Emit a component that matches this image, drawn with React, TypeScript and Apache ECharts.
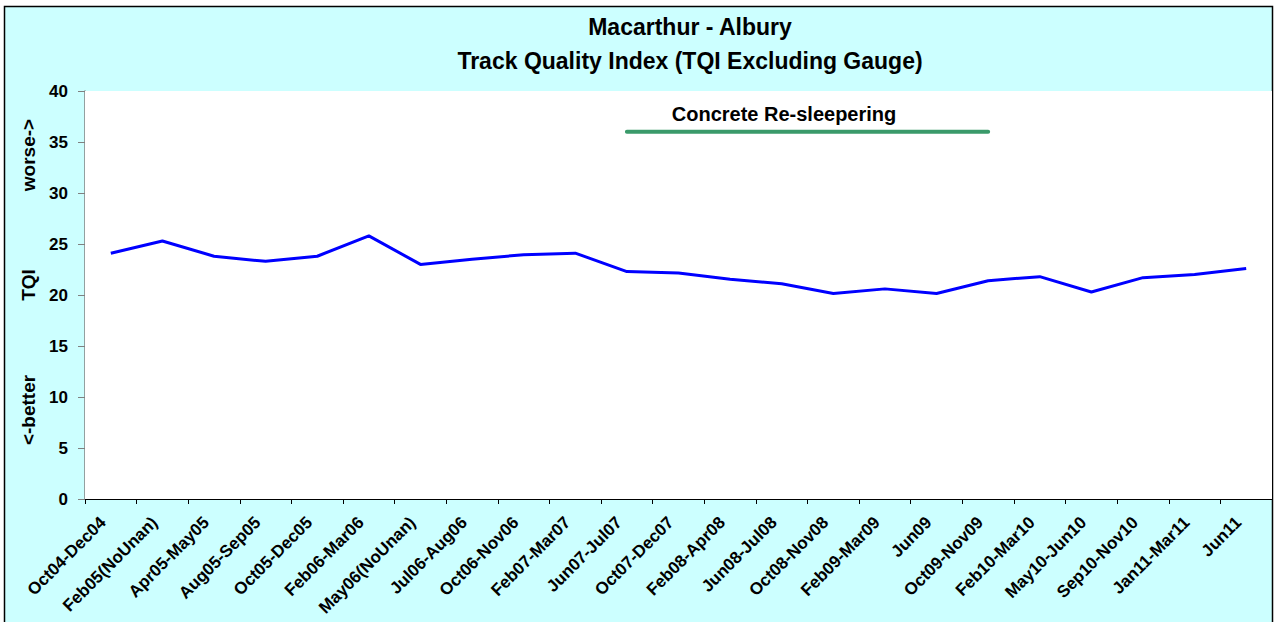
import React, { useEffect, useRef } from "react";
import * as echarts from "echarts";

const categories = [
  "Oct04-Dec04", "Feb05(NoUnan)", "Apr05-May05", "Aug05-Sep05", "Oct05-Dec05",
  "Feb06-Mar06", "May06(NoUnan)", "Jul06-Aug06", "Oct06-Nov06", "Feb07-Mar07",
  "Jun07-Jul07", "Oct07-Dec07", "Feb08-Apr08", "Jun08-Jul08", "Oct08-Nov08",
  "Feb09-Mar09", "Jun09", "Oct09-Nov09", "Feb10-Mar10", "May10-Jun10",
  "Sep10-Nov10", "Jan11-Mar11", "Jun11",
];

const tqiValues = [
  24.1, 25.3, 23.8, 23.3, 23.8, 25.8, 23.0, 23.5, 23.95, 24.1,
  22.3, 22.15, 21.55, 21.1, 20.15, 20.6, 20.15, 21.4, 21.8, 20.3,
  21.7, 22.0, 22.6,
];

// Concrete re-sleepering period marker (Jun07-Jul07 .. Oct09-Nov09)
const resleeperStart = 10;
const resleeperEnd = 17;
const resleeperLevel = 36;
const resleeperValues = categories.map((_, i) =>
  i >= resleeperStart && i <= resleeperEnd ? resleeperLevel : null
);

const yTicks = [0, 5, 10, 15, 20, 25, 30, 35, 40];

export default function App() {
  const ref = useRef<HTMLDivElement>(null);
  useEffect(() => {
    if (!ref.current) return;
    const chart = echarts.init(ref.current, undefined, { renderer: "svg" });
    const font = "Arial, 'Liberation Sans', sans-serif";
    const txt = (text: string, x: number, y: number, size: number, rot = 0) => ({
      type: "text",
      x,
      y,
      z: 100,
      rotation: rot,
      style: {
        text,
        font: `bold ${size}px ${font}`,
        fill: "#000",
        textAlign: "center",
        textVerticalAlign: "middle",
      },
    });
    chart.setOption({
      animation: false,
      backgroundColor: "#ffffff",
      textStyle: { fontFamily: font },
      graphic: [
        {
          type: "rect",
          z: -100,
          shape: { x: 4.5, y: 6.5, width: 1268, height: 630 },
          style: { fill: "#CCFFFF", stroke: "#000", lineWidth: 1.5 },
        },
        txt("Macarthur - Albury", 690, 27, 23),
        txt("Track Quality Index (TQI Excluding Gauge)", 690, 61, 23),
        txt("<-better", 28, 410, 19, Math.PI / 2),
        txt("TQI", 28, 285, 19, Math.PI / 2),
        txt("worse->", 28, 155, 19, Math.PI / 2),
        txt("Concrete Re-sleepering", 784, 114, 20),
      ],
      grid: {
        left: 85,
        right: 7,
        top: 91,
        bottom: 123,
        show: true,
        backgroundColor: "#ffffff",
        borderWidth: 0,
        z: 1,
      },
      xAxis: {
        type: "category",
        data: categories,
        boundaryGap: true,
        axisLine: { lineStyle: { color: "#000", width: 1 } },
        axisTick: { show: true, length: 5, lineStyle: { color: "#000" } },
        axisLabel: {
          rotate: 45,
          interval: 0,
          color: "#000",
          fontWeight: "bold",
          fontSize: 17,
          fontFamily: font,
          margin: 13,
          padding: [0, 11, 0, 0],
        },
      },
      yAxis: {
        type: "value",
        min: 0,
        max: 40,
        interval: 5,
        axisLine: { show: true, lineStyle: { color: "#808080", width: 1.5 } },
        axisTick: { show: true, length: 7, lineStyle: { color: "#808080" } },
        axisLabel: {
          color: "#000",
          fontWeight: "bold",
          fontSize: 17,
          fontFamily: font,
          margin: 17,
          formatter: (v: number) => (yTicks.includes(v) ? String(v) : ""),
        },
        splitLine: {
          show: true,
          lineStyle: {
            color: ["#000", "#000", "#000", "#000", "#000", "#000", "#000", "#000", "#d8d8d8"],
            width: 1,
          },
        },
      },
      series: [
        {
          name: "TQI",
          type: "line",
          data: tqiValues,
          symbol: "none",
          lineStyle: { color: "#0000FF", width: 3 },
          z: 3,
        },
        {
          name: "Concrete Re-sleepering",
          type: "line",
          data: resleeperValues,
          symbol: "none",
          connectNulls: false,
          lineStyle: { color: "#3A9A6A", width: 4, cap: "round" },
          z: 3,
        },
      ],
    });
    return () => chart.dispose();
  }, []);
  return (
    <div
      ref={ref}
      style={{ position: "absolute", left: 0, top: 0, width: 1279, height: 622 }}
    />
  );
}
